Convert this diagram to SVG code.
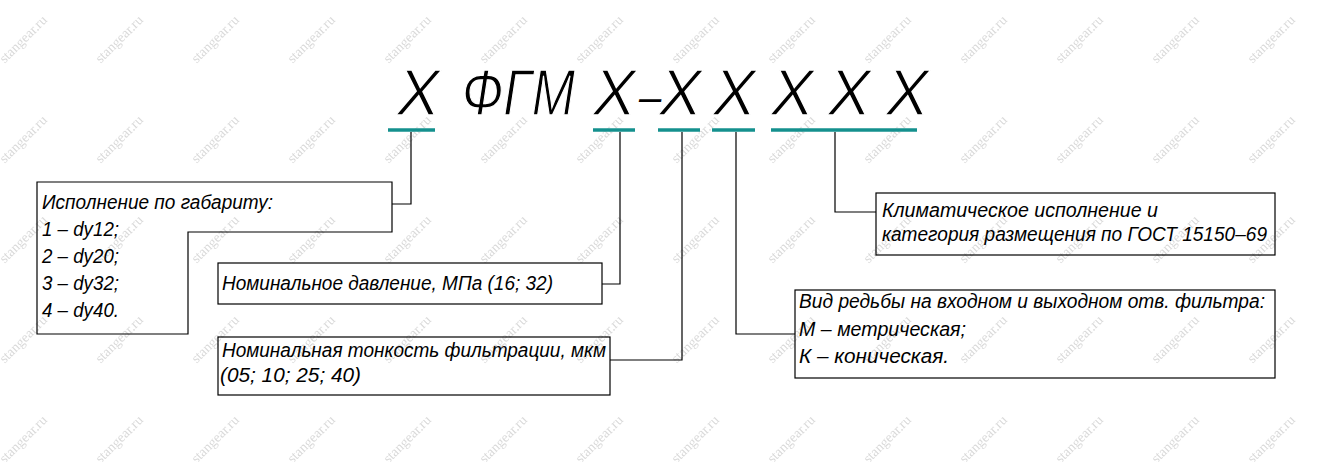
<svg xmlns="http://www.w3.org/2000/svg" width="1343" height="462" viewBox="0 0 1343 462">
<style>
.wm{font-family:"Liberation Serif",serif;font-size:14px;fill:#d9d9d9;}
.ttl{font-family:"Liberation Sans",Arial,sans-serif;font-style:italic;font-size:64px;fill:#000;stroke:#fff;stroke-width:1.3px;paint-order:normal;}
.t{font-family:"Liberation Sans",Arial,sans-serif;font-style:italic;font-size:20px;fill:#000;}
.box{fill:none;stroke:#000;stroke-width:1.2;}
.ul{stroke:#14908e;stroke-width:3.5;fill:none;}
.ln{stroke:#000;stroke-width:1.2;fill:none;}
</style>
<defs>
<pattern id="wmp" x="0" y="0" width="96" height="100" patternUnits="userSpaceOnUse">
<text class="wm" x="0" y="0" transform="translate(24 40) rotate(-45)" text-anchor="middle" dominant-baseline="middle">stangear.ru</text>
</pattern>
</defs>
<rect width="1343" height="462" fill="#fff"/>
<rect width="1343" height="462" fill="url(#wmp)"/>
<g id="title">
<text class="ttl" x="397" y="115">X</text>
<text class="ttl" x="462" y="115" textLength="113" lengthAdjust="spacingAndGlyphs">ФГМ</text>
<text class="ttl" y="115"><tspan x="593">X</tspan><tspan x="639" font-size="40" dy="-4" style="stroke:none">–</tspan><tspan x="659" dy="4">X</tspan></text>
<text class="ttl" x="713" y="115">X</text>
<text class="ttl" x="771" y="115">X</text>
<text class="ttl" x="828" y="115">X</text>
<text class="ttl" x="886" y="115">X</text>
</g>
<g id="underlines">
<line class="ul" x1="388" y1="130" x2="435" y2="130"/>
<line class="ul" x1="593" y1="130" x2="635" y2="130"/>
<line class="ul" x1="658" y1="130" x2="700" y2="130"/>
<line class="ul" x1="712" y1="130" x2="755" y2="130"/>
<line class="ul" x1="771" y1="130" x2="917" y2="130"/>
</g>
<g id="connectors">
<polyline class="ln" points="411,132 411,204 392,204"/>
<polyline class="ln" points="620,132 620,284 602,284"/>
<polyline class="ln" points="682,132 682,360 610,360"/>
<polyline class="ln" points="736,132 736,334 795,334"/>
<polyline class="ln" points="835,132 835,212 876,212"/>
</g>
<g id="node-size">
<path class="box" d="M37,182 H392 V232 H188 V334 H37 Z"/>
<text class="t" x="42" y="209" textLength="231" lengthAdjust="spacingAndGlyphs">Исполнение по габариту:</text>
<text class="t" x="42" y="236" textLength="77" lengthAdjust="spacingAndGlyphs">1 – dy12;</text>
<text class="t" x="42" y="263" textLength="77" lengthAdjust="spacingAndGlyphs">2 – dy20;</text>
<text class="t" x="42" y="290" textLength="77" lengthAdjust="spacingAndGlyphs">3 – dy32;</text>
<text class="t" x="42" y="317" textLength="77" lengthAdjust="spacingAndGlyphs">4 – dy40.</text>
</g>
<g id="node-pressure">
<rect class="box" x="218" y="263" width="384" height="41"/>
<text class="t" x="222" y="290" textLength="331" lengthAdjust="spacingAndGlyphs">Номинальное давление, МПа (16; 32)</text>
</g>
<g id="node-filtration">
<rect class="box" x="218" y="337" width="392" height="58"/>
<text class="t" x="222" y="357" textLength="384" lengthAdjust="spacingAndGlyphs">Номинальная тонкость фильтрации, мкм</text>
<text class="t" x="220" y="382" textLength="141" lengthAdjust="spacingAndGlyphs">(05; 10; 25; 40)</text>
</g>
<g id="node-climate">
<rect class="box" x="876" y="193" width="399" height="62"/>
<text class="t" x="882" y="217" textLength="276" lengthAdjust="spacingAndGlyphs">Климатическое исполнение и</text>
<text class="t" x="882" y="241" textLength="385" lengthAdjust="spacingAndGlyphs">категория размещения по ГОСТ 15150–69</text>
</g>
<g id="node-thread">
<rect class="box" x="795" y="290" width="480" height="88"/>
<text class="t" x="799" y="308" textLength="466" lengthAdjust="spacingAndGlyphs">Вид редьбы на входном и выходном отв. фильтра:</text>
<text class="t" x="799" y="336" textLength="167" lengthAdjust="spacingAndGlyphs">М – метрическая;</text>
<text class="t" x="799" y="363" textLength="150" lengthAdjust="spacingAndGlyphs">К – коническая.</text>
</g>
</svg>
